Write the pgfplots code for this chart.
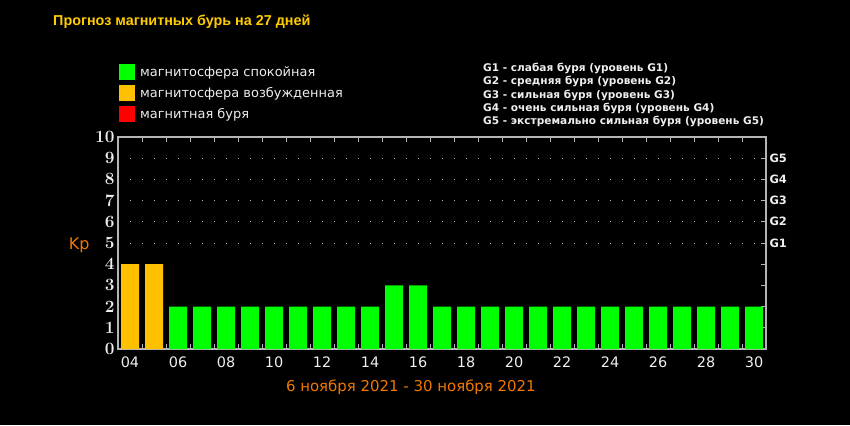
\documentclass[border=0pt]{standalone}
\usepackage{pgfplots}
\pgfplotsset{compat=1.18}
\usepackage{fontspec}
\setmainfont{DejaVu Sans}
\newfontfamily\titlefont{Liberation Sans}
\definecolor{cgreen}{HTML}{00FF00}
\definecolor{corange}{HTML}{FFC000}
\definecolor{cred}{HTML}{FF0000}
\definecolor{ctitle}{HTML}{FFCC00}
\definecolor{clabel}{HTML}{F07800}
\definecolor{cframe}{HTML}{B4B4B4}
\definecolor{ctext}{HTML}{EEEEEE}
\begin{document}
\begin{tikzpicture}[x=1bp,y=1bp]
\fill[black] (0,0) rectangle (850,425);
\useasboundingbox (0,0) rectangle (850,425);
\node[anchor=west, inner sep=0, font=\titlefont\bfseries\fontsize{14.4}{16}\selectfont, text=ctitle] at (53,403) {Прогноз магнитных бурь на 27 дней};
\node[anchor=north west, align=left, inner sep=0, font=\bfseries\fontsize{10.6}{13.3}\selectfont, text=ctext] at (483,362)
 {G1 - слабая буря (уровень G1)\\G2 - средняя буря (уровень G2)\\G3 - сильная буря (уровень G3)\\G4 - очень сильная буря (уровень G4)\\G5 - экстремально сильная буря (уровень G5)};
\begin{axis}[
  at={(118bp,76bp)}, anchor=south west,
  scale only axis, width=648bp, height=212bp,
  xmin=3.5, xmax=30.5, ymin=0, ymax=10,
  axis line style={cframe, line width=1.3bp},
  tick align=inside,
  xtick={4,6,...,30},
  xticklabels={04,06,08,10,12,14,16,18,20,22,24,26,28,30},
  major x tick style={draw=none},
  minor xtick={4.5,5.5,...,29.5},
  minor x tick style={cframe, line width=1bp},
  minor tick length=5bp,
  xticklabel style={text=ctext, yshift=-4bp, font=\fontsize{14.5}{16}\selectfont},
  ytick={0,...,10},
  ytick pos=right, yticklabel pos=left,
  major y tick style={cframe, line width=1bp},
  major tick length=5bp,
  yticklabel style={text=ctext, font=\fontsize{18}{18}\selectfont\boldmath},
  extra y ticks={5,...,9},
  extra y tick labels={},
  extra y tick style={grid=major, major grid style={cframe, line width=1bp, dash pattern=on 1bp off 11bp}},
  ylabel={Kp},
  ylabel style={rotate=-90, at={(axis description cs:-0.06,0.49)}, anchor=center, text=clabel, font=\fontsize{16}{16}\selectfont},
  xlabel={6 ноября 2021 - 30 ноября 2021},
  xlabel style={at={(axis description cs:0.452,-0.18)}, anchor=center, text=clabel, font=\fontsize{15}{15}\selectfont},
  legend style={at={(rel axis cs:0.0015,1.344)}, anchor=north west, draw=none, fill=none, inner sep=0pt,
     row sep=5bp, text=ctext, font=\fontsize{13}{13}\selectfont,
     nodes={inner sep=0pt, anchor=west}},
  legend cell align=left,
  legend image code/.code={\fill[#1] (0bp,-8bp) rectangle (16bp,8bp);},
  clip=false,
]
\addplot[ybar, bar shift=0pt, bar width=0.75, fill=cgreen, draw=none] coordinates {
 (6,2) (7,2) (8,2) (9,2) (10,2) (11,2) (12,2) (13,2) (14,2) (15,3) (16,3) (17,2) (18,2) (19,2) (20,2)
 (21,2) (22,2) (23,2) (24,2) (25,2) (26,2) (27,2) (28,2) (29,2) (30,2)};
\addlegendentry{\hspace{5bp}магнитосфера спокойная}
\addplot[ybar, bar shift=0pt, bar width=0.75, fill=corange, draw=none] coordinates {(4,4) (5,4)};
\addlegendentry{\hspace{5bp}магнитосфера возбужденная}
\addlegendimage{fill=cred, draw=none}
\addlegendentry{\hspace{5bp}магнитная буря}
\foreach \g [count=\i from 5] in {1,...,5} {
  \edef\tmp{\noexpand\node[anchor=west, text=ctext, font=\noexpand\bfseries\noexpand\fontsize{11.5}{11.5}\noexpand\selectfont] at (axis cs:30.5,\i) {G\g};}
  \tmp
}
\end{axis}
\end{tikzpicture}
\end{document}
